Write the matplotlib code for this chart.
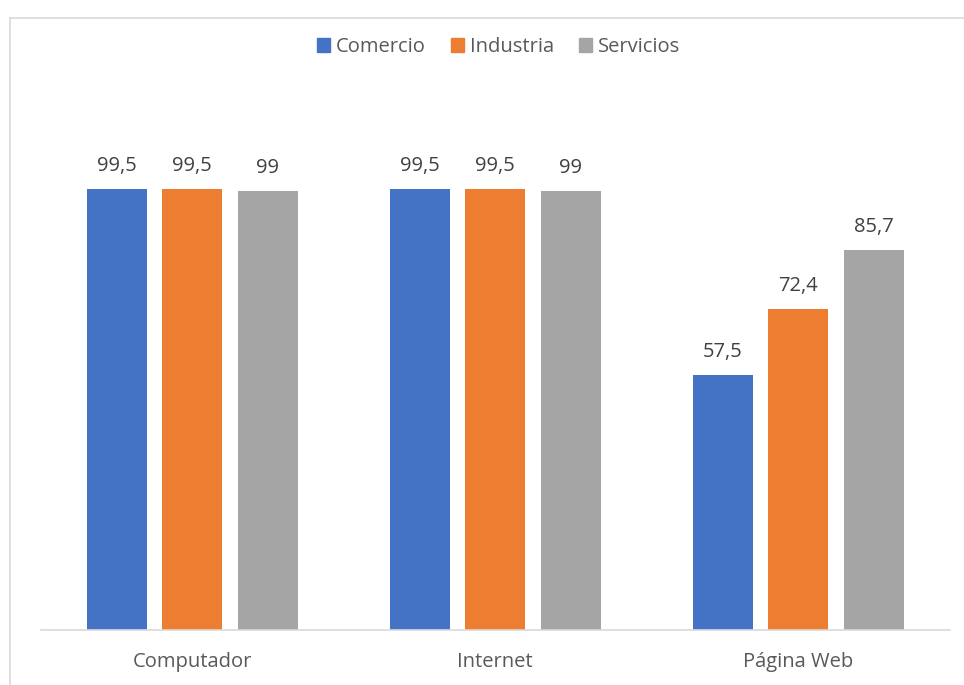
import matplotlib
matplotlib.use("Agg")
import matplotlib.pyplot as plt
import numpy as np
from matplotlib.patches import Patch
from matplotlib.lines import Line2D

categories = ["Computador", "Internet", "Página Web"]
series_names = ["Comercio", "Industria", "Servicios"]
comercio = [99.5, 99.5, 57.5]
industria = [99.5, 99.5, 72.4]
servicios = [99, 99, 85.7]
colors = ["#4472C4", "#ED7D31", "#A5A5A5"]
values = [comercio, industria, servicios]

plt.rcParams['font.family'] = ['Open Sans', 'DejaVu Sans']

W, H = 964, 685
fig = plt.figure(figsize=(W/100, H/100), dpi=100)

# chart frame (partially cut off at right/bottom)
fig.add_artist(Line2D([10/W, 10/W], [0, 1 - 18/H], transform=fig.transFigure, color="#D9D9D9", lw=1.2))
fig.add_artist(Line2D([10/W, 1], [1 - 18/H, 1 - 18/H], transform=fig.transFigure, color="#D9D9D9", lw=1.2))

ax_left, ax_right = 40.5, 949.5
ax_bottom, ax_top = 630, 98
ax = fig.add_axes([ax_left/W, 1 - ax_bottom/H, (ax_right-ax_left)/W, (ax_bottom-ax_top)/H])
ymax = (ax_bottom - ax_top) / 4.432
ax.set_ylim(0, ymax)
ax.set_xlim(-0.5, 2.5)

x = np.arange(len(categories))
bw = 60/303
step = 75.5/303
for i, (name, vals, c) in enumerate(zip(series_names, values, colors)):
    pos = x + (i - 1) * step
    ax.bar(pos, vals, width=bw, color=c, label=name)
    for p, v in zip(pos, vals):
        lab = f"{v:g}".replace(".", ",")
        ax.annotate(lab, (p, v), xytext=(0, 13), textcoords="offset points",
                    ha="center", va="baseline", fontsize=14.5, color="#404040")

for s in ["top", "right", "left"]:
    ax.spines[s].set_visible(False)
ax.spines["bottom"].set_color("#D9D9D9")
ax.spines["bottom"].set_linewidth(1.2)
ax.set_yticks([])
ax.set_xticks(x)
ax.set_xticklabels(categories, fontsize=14.5, color="#595959")
ax.tick_params(axis="x", length=0, pad=16)

handles = [Patch(color=c, label=n) for n, c in zip(series_names, colors)]
fig.legend(handles=handles, loc="center", bbox_to_anchor=(498.5/W, 1 - 47/H), ncol=3,
           frameon=False, fontsize=14.5, handlelength=0.65, handleheight=0.65,
           handletextpad=0.3, columnspacing=1.25, labelcolor="#595959")

fig.savefig("out.png", dpi=100)
